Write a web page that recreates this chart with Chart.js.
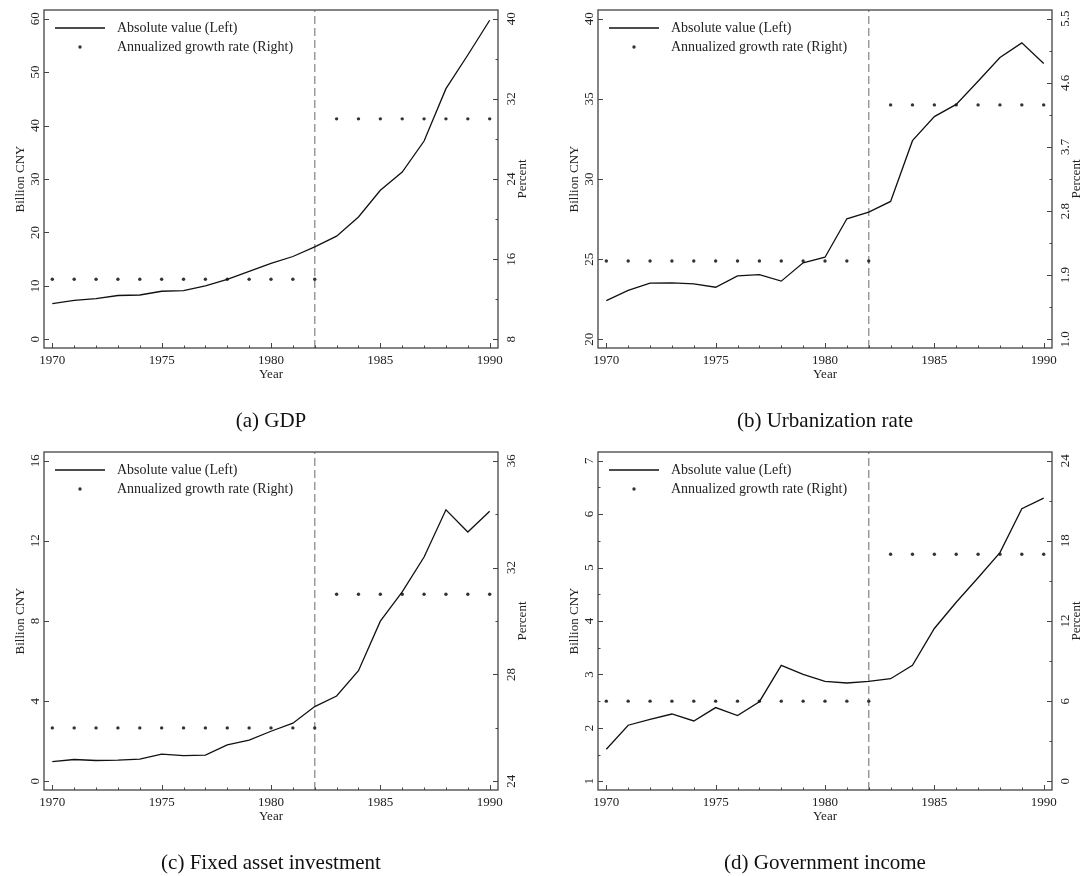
<!DOCTYPE html>
<html><head><meta charset="utf-8">
<script src="https://cdn.jsdelivr.net/npm/chart.js@4.4.1/dist/chart.umd.min.js"></script>
<style>
html,body{margin:0;padding:0;background:#fff;overflow:hidden;width:1084px;height:876px;}
canvas{position:absolute;}
</style></head><body>
<canvas id="cA" width="542" height="434" style="left:0px;top:0px"></canvas>
<canvas id="cB" width="530" height="434" style="left:554px;top:0px"></canvas>
<canvas id="cC" width="542" height="434" style="left:0px;top:442px"></canvas>
<canvas id="cD" width="530" height="434" style="left:554px;top:442px"></canvas>
<script>
// ---------- data ----------
const years = [1970,1971,1972,1973,1974,1975,1976,1977,1978,1979,1980,1981,1982,1983,1984,1985,1986,1987,1988,1989,1990];
const yearLabels = ['1970','','','','','1975','','','','','1980','','','','','1985','','','','','1990'];
const breakYear = 1982;

const gdpValues   = [6.7,7.3,7.6,8.2,8.3,9.0,9.1,10.0,11.2,12.7,14.2,15.5,17.3,19.3,22.9,27.9,31.3,37.1,46.9,53.2,59.7];
const gdpGrowth   = [14,14,14,14,14,14,14,14,14,14,14,14,14,30,30,30,30,30,30,30,30];
const gdpLeftTicks  = [0,10,20,30,40,50,60];
const gdpLeftLabels = ['0','10','20','30','40','50','60'];
const gdpRightTicks  = [8,12,16,20,24,28,32,36,40];
const gdpRightLabels = ['8','','16','','24','','32','','40'];

const urbValues   = [22.42,23.05,23.5,23.52,23.46,23.25,23.96,24.04,23.63,24.77,25.12,27.52,27.94,28.6,32.39,33.89,34.65,36.1,37.58,38.49,37.2];
const urbGrowth   = [2.1,2.1,2.1,2.1,2.1,2.1,2.1,2.1,2.1,2.1,2.1,2.1,2.1,4.29,4.29,4.29,4.29,4.29,4.29,4.29,4.29];
const urbLeftTicks  = [20,25,30,35,40];
const urbLeftLabels = ['20','25','30','35','40'];
const urbRightTicks  = [1.0,1.45,1.9,2.35,2.8,3.25,3.7,4.15,4.6,5.05,5.5];
const urbRightLabels = ['1.0','','1.9','','2.8','','3.7','','4.6','','5.5'];

const faiValues   = [0.98,1.09,1.04,1.06,1.11,1.36,1.28,1.31,1.82,2.06,2.5,2.9,3.73,4.26,5.52,7.99,9.45,11.19,13.55,12.44,13.48];
const faiGrowth   = [26,26,26,26,26,26,26,26,26,26,26,26,26,31,31,31,31,31,31,31,31];
const faiLeftTicks  = [0,4,8,12,16];
const faiLeftLabels = ['0','4','8','12','16'];
const faiRightTicks  = [24,26,28,30,32,34,36];
const faiRightLabels = ['24','','28','','32','','36'];

const govValues   = [1.6,2.05,2.16,2.26,2.13,2.38,2.23,2.49,3.17,3.0,2.87,2.84,2.87,2.92,3.17,3.86,4.35,4.81,5.28,6.1,6.3];
const govGrowth   = [6,6,6,6,6,6,6,6,6,6,6,6,6,17,17,17,17,17,17,17,17];
const govLeftTicks  = [1,1.5,2,2.5,3,3.5,4,4.5,5,5.5,6,6.5,7];
const govLeftLabels = ['1','','2','','3','','4','','5','','6','','7'];
const govRightTicks  = [0,3,6,9,12,15,18,21,24];
const govRightLabels = ['0','','6','','12','','18','','24'];

const lineLabel = 'Absolute value (Left)';
const dotLabel  = 'Annualized growth rate (Right)';

// ---------- styling ----------
const SERIF = "'Liberation Serif','Times New Roman',serif";
const TXT = '#222';
const PAD = 0.027, XPAD = 0.38;
function padRange(t){ const s = t[t.length-1]-t[0]; return [t[0]-PAD*s, t[t.length-1]+PAD*s]; }
function noPad(s){ s.paddingTop = 0; s.paddingBottom = 0; s.paddingLeft = 0; s.paddingRight = 0; }

const decor = {
  id: 'decor',
  afterDraw(chart, args, opts){
    const ctx = chart.ctx, a = chart.chartArea;
    ctx.save();
    // inward ticks
    ctx.strokeStyle = '#444'; ctx.lineWidth = 1;
    Object.values(chart.scales).forEach(s => {
      s.ticks.forEach(t => {
        const major = t.label !== '' && t.label != null;
        const len = major ? 5 : 2.5;
        const p = Math.round(s.getPixelForValue(t.value)) + 0.5;
        ctx.beginPath();
        if (s.axis === 'x') { ctx.moveTo(p, a.bottom); ctx.lineTo(p, a.bottom - len); }
        else if (s.position === 'left') { ctx.moveTo(a.left, p); ctx.lineTo(a.left + len, p); }
        else { ctx.moveTo(a.right, p); ctx.lineTo(a.right - len, p); }
        ctx.stroke();
      });
    });
    // frame
    ctx.strokeStyle = '#444'; ctx.lineWidth = 1.3;
    ctx.strokeRect(a.left, a.top, a.right - a.left, a.bottom - a.top);
    // legend
    const d0 = chart.data.datasets[0], d1 = chart.data.datasets[1];
    ctx.strokeStyle = d0.borderColor; ctx.lineWidth = d0.borderWidth;
    ctx.beginPath(); ctx.moveTo(a.left + 11, a.top + 18); ctx.lineTo(a.left + 61, a.top + 18); ctx.stroke();
    ctx.fillStyle = d1.pointBackgroundColor;
    ctx.beginPath(); ctx.arc(a.left + 36, a.top + 37, d1.pointRadius, 0, Math.PI * 2); ctx.fill();
    ctx.fillStyle = TXT; ctx.font = '14px ' + SERIF; ctx.textAlign = 'left'; ctx.textBaseline = 'middle';
    ctx.fillText(d0.label, a.left + 73, a.top + 18);
    ctx.fillText(d1.label, a.left + 73, a.top + 37);
    // right axis title (reads bottom-to-top)
    ctx.font = '13px ' + SERIF; ctx.textAlign = 'center';
    ctx.translate(a.right + 25, (a.top + a.bottom) / 2);
    ctx.rotate(-Math.PI / 2);
    ctx.fillText(opts.rightTitle, 0, 0);
    ctx.restore();
  }
};

function makePanel(id, width, caption, values, growth, lTicks, lLabels, rTicks, rLabels, lPad, rPad){
  const [lMin, lMax] = padRange(lTicks);
  const [rMin, rMax] = padRange(rTicks);
  const font = {family: SERIF, size: 13};
  return new Chart(document.getElementById(id), {
    type: 'line',
    data: { datasets: [
      { label: lineLabel, data: years.map((yr,i)=>({x:yr, y:values[i]})), yAxisID:'y',
        borderColor:'#111', borderWidth:1.3, pointRadius:0, tension:0, fill:false },
      { label: dotLabel, data: years.map((yr,i)=>({x:yr, y:growth[i]})), yAxisID:'y2',
        showLine:false, pointRadius:1.7, pointBackgroundColor:'#333', pointBorderWidth:0, borderColor:'#333' },
      { label: 'break', data: [{x:breakYear, y:lMin}, {x:breakYear, y:lMax}], yAxisID:'y',
        borderColor:'#9a9a9a', borderWidth:1.5, borderDash:[8,4], pointRadius:0, fill:false }
    ]},
    options: {
      responsive:false, animation:false, events:[],
      layout:{padding:{top:10, left:0, right:0, bottom:0}},
      plugins:{
        legend:{display:false}, tooltip:{enabled:false},
        title:{display:true, text:caption, position:'bottom', fullSize:false, color:'#111',
               font:{family:SERIF, size:21, weight:'normal'}, padding:{top:8.5, bottom:0.3}},
        decor:{rightTitle:'Percent'}
      },
      scales:{
        x:{type:'linear', min:years[0]-XPAD, max:years[years.length-1]+XPAD,
           afterBuildTicks:s=>{ s.ticks = years.map(v=>({value:v})); },
           ticks:{callback:(v,i)=>yearLabels[i], autoSkip:false, minRotation:0, maxRotation:0, padding:5, font, color:TXT},
           grid:{display:false, drawTicks:false}, border:{display:false},
           title:{display:true, text:'Year', font, color:TXT, padding:{top:0, bottom:17.5}},
           afterFit:s=>{ s.height = 52; noPad(s); }},
        y:{position:'left', min:lMin, max:lMax,
           afterBuildTicks:s=>{ s.ticks = lTicks.map(v=>({value:v})); },
           ticks:{callback:(v,i)=>lLabels[i], autoSkip:false, minRotation:90, maxRotation:90, crossAlign:'center', padding:lPad, font, color:TXT},
           grid:{display:false, drawTicks:false}, border:{display:false},
           title:{display:true, text:'Billion CNY', font, color:TXT, padding:{top:13.2, bottom:0}},
           afterFit:s=>{ s.width = 44; noPad(s); }},
        y2:{position:'right', min:rMin, max:rMax,
           afterBuildTicks:s=>{ s.ticks = rTicks.map(v=>({value:v})); },
           ticks:{callback:(v,i)=>rLabels[i], autoSkip:false, minRotation:90, maxRotation:90, crossAlign:'center', padding:rPad, font, color:TXT},
           grid:{display:false, drawTicks:false}, border:{display:false},
           afterFit:s=>{ s.width = width - 498; noPad(s); }}
      }
    },
    plugins:[decor]
  });
}

makePanel('cA', 542, '(a) GDP', gdpValues, gdpGrowth, gdpLeftTicks, gdpLeftLabels, gdpRightTicks, gdpRightLabels, 1.5, 7.5);
makePanel('cB', 530, '(b) Urbanization rate', urbValues, urbGrowth, urbLeftTicks, urbLeftLabels, urbRightTicks, urbRightLabels, 1.5, 5.4);
makePanel('cC', 542, '(c) Fixed asset investment', faiValues, faiGrowth, faiLeftTicks, faiLeftLabels, faiRightTicks, faiRightLabels, 1.5, 7.5);
makePanel('cD', 530, '(d) Government income', govValues, govGrowth, govLeftTicks, govLeftLabels, govRightTicks, govRightLabels, 4.9, 7.5);
</script>
</body></html>
